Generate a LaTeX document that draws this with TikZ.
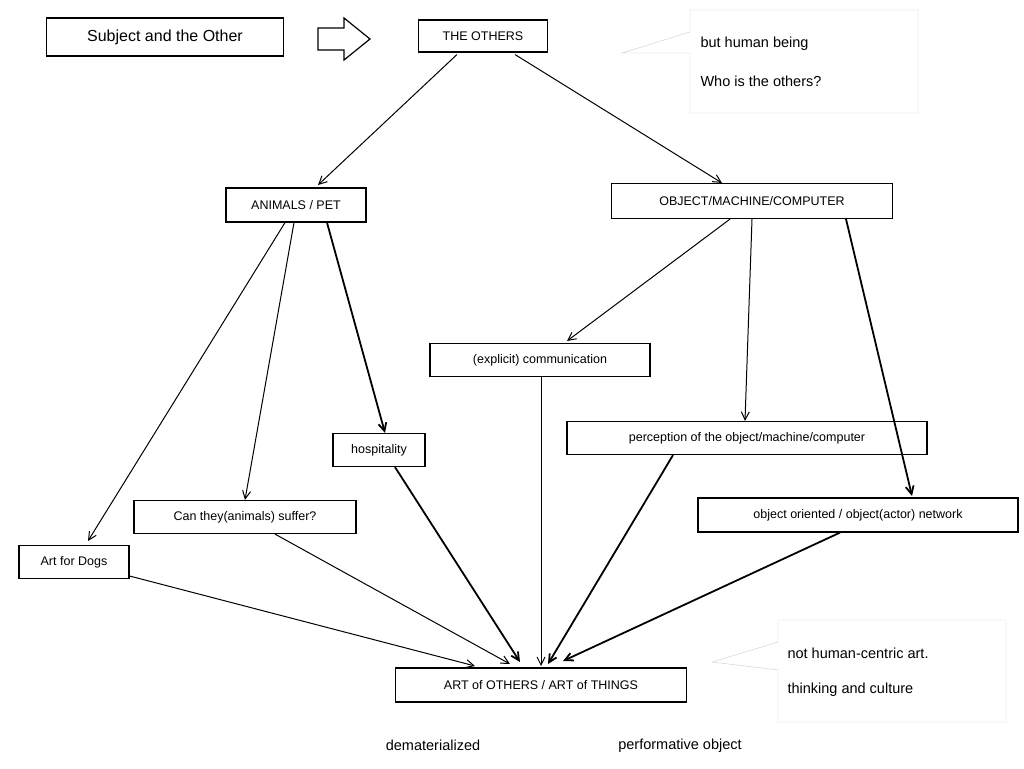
\documentclass[tikz,border=0pt]{standalone}
\usepackage{fontspec}
\setmainfont{Liberation Sans}
\usetikzlibrary{arrows.meta}
\begin{document}
\begin{tikzpicture}[x=1pt,y=-1pt,
  box/.style={draw,line width=1.2pt,inner sep=0pt,minimum height=33pt,font=\fontsize{12.5}{14}\selectfont},
  ar/.style={-{Straight Barb[length=8pt,width=8pt]},line width=1pt},
  tk/.style={-{Straight Barb[length=8pt,width=8pt]},line width=1.8pt},
  note/.style={font=\fontsize{14.5}{16}\selectfont,anchor=west}]
\useasboundingbox (0,0) rectangle (1024,768);
\node[box,minimum width=237pt,minimum height=38pt,font=\fontsize{16}{18}\selectfont] (subj) at (165,37) {Subject and the Other};
\draw[line width=1.2pt] (318,28) -- (344,28) -- (344,18) -- (370,39) -- (344,60) -- (344,50) -- (318,50) -- cycle;
\node[box,minimum width=129pt,minimum height=32pt] (oth) at (483,36) {THE OTHERS};
\draw[gray!40,fill=white] (690,10) -- (918,10) -- (918,113) -- (690,113) -- (690,53) -- (622,53) -- (690,32) -- cycle;
\node[note] (n1) at (697,44) {but human being};
\node[note] (n2) at (697,81) {Who is the others?};
\node[box,minimum width=140pt,minimum height=34pt] (ani) at (296,205) {ANIMALS / PET};
\node[box,minimum width=281pt,minimum height=35pt] (obj) at (752,201) {OBJECT/MACHINE/COMPUTER};
\node[box,minimum width=220pt] (com) at (540,360) {(explicit) communication};
\node[box,minimum width=92pt] (hos) at (379,450) {hospitality};
\node[box,minimum width=360pt] (per) at (747,438) {perception of the object/machine/computer};
\node[box,minimum width=222pt] (suf) at (245,517) {Can they(animals) suffer?};
\node[box,minimum width=320pt,minimum height=34pt] (ooo) at (858,515) {object oriented / object(actor) network};
\node[box,minimum width=110pt] (dog) at (74,562) {Art for Dogs};
\node[box,minimum width=291pt,minimum height=34pt] (art) at (541,685) {ART of OTHERS / ART of THINGS};
\draw[gray!40,fill=white] (778,620) -- (1006,620) -- (1006,722) -- (778,722) -- (778,670) -- (712,662) -- (778,642) -- cycle;
\node[note] (n3) at (784,653) {not human-centric art.};
\node[note] (n4) at (784,690) {thinking and culture};
\node[note,anchor=center] (d) at (433,745) {dematerialized};
\node[note,anchor=center] (p) at (680,746) {performative object};
\draw[ar] (oth.south west)++(39,2) -- (318,185);
\draw[ar] (oth.south east)++(-33,2) -- (722,183);
\draw[ar] ([xshift=-11pt]ani.south) -- (88,541);
\draw[ar] ([xshift=-2pt]ani.south) -- (suf.north);
\draw[tk] ([xshift=31pt]ani.south) -- ([xshift=6pt]hos.north);
\draw[ar] ([xshift=-22pt]obj.south) -- (567,341);
\draw[ar] (obj.south) -- ([xshift=-2pt]per.north);
\draw[tk] ([xshift=94pt]obj.south) -- (912,496);
\draw[ar] (dog.east) ++(0,14) -- (475,666);
\draw[ar] ([xshift=30pt]suf.south) -- (510,664);
\draw[tk] ([xshift=16pt]hos.south) -- (520,662);
\draw[ar] ([xshift=1pt]com.south) -- (541,666);
\draw[tk] ([xshift=-74pt]per.south) -- (548,664);
\draw[tk] ([xshift=-18pt]ooo.south) -- (563,661);
\end{tikzpicture}
\end{document}
